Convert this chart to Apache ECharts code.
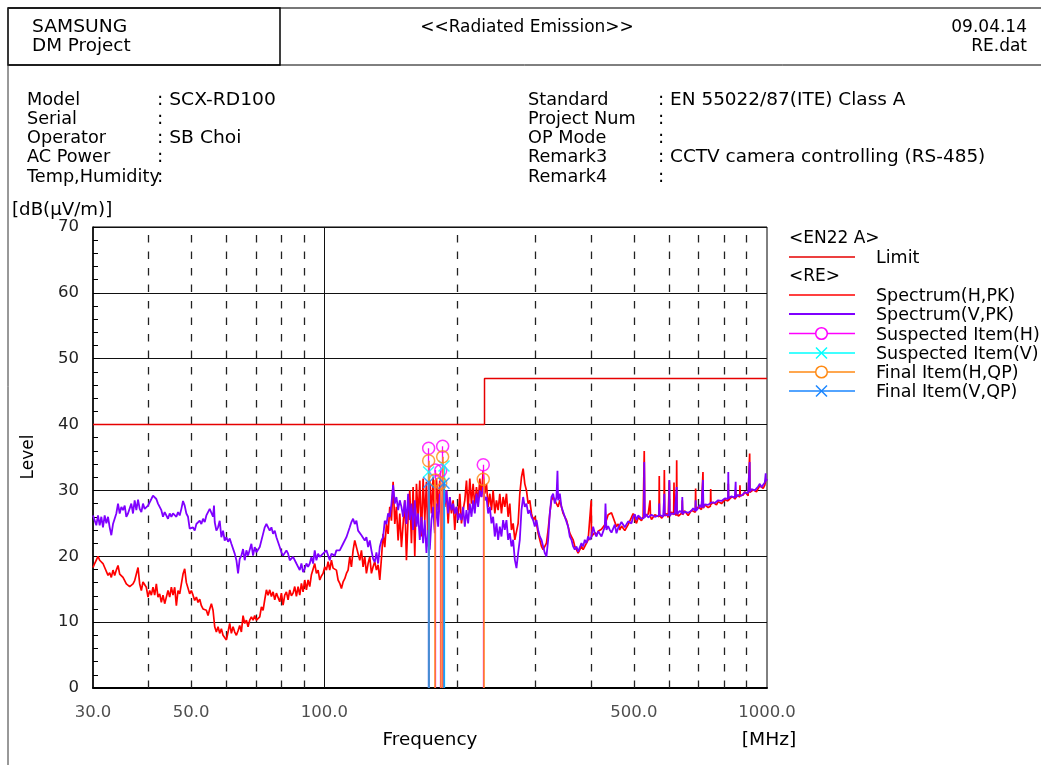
<!DOCTYPE html>
<html><head><meta charset="utf-8">
<script src="https://cdn.jsdelivr.net/npm/echarts@6/dist/echarts.min.js"></script>
<style>html,body{margin:0;padding:0;background:#fff;}#c{width:1041px;height:765px;}</style>
</head><body><div id="c"></div>
<script>
// ---------------- DATA ----------------
const spectrumH = [
[30.00,18.3],[30.26,18.9],[30.52,19.4],[30.79,20.0],[31.06,19.4],[31.33,19.1],[31.60,18.9],[31.88,18.3],[32.16,18.4],[32.44,17.1],[32.72,17.5],[33.00,16.8],[33.29,17.9],[33.58,17.1],[33.87,17.9],[34.17,18.6],[34.47,17.3],[34.77,17.3],[35.07,16.8],[35.38,16.3],[35.68,15.8],[35.99,15.6],[36.31,15.4],[36.62,15.6],[36.94,15.8],[37.26,16.3],[37.59,17.3],[37.92,18.3],[38.25,15.8],[38.58,14.8],[38.91,16.1],[39.25,16.3],[39.59,15.3],[39.94,13.8],[40.29,14.8],[40.64,14.1],[40.99,15.3],[41.35,14.1],[41.71,15.8],[42.07,13.8],[42.44,14.3],[42.81,13.0],[43.18,14.1],[43.56,12.8],[43.94,13.8],[44.32,14.8],[44.71,13.8],[45.10,15.3],[45.49,14.1],[45.89,15.3],[46.29,12.5],[46.69,14.8],[47.10,14.3],[47.51,15.8],[47.92,17.3],[48.34,18.1],[48.76,16.0],[49.18,15.8],[49.61,14.3],[50.04,14.8],[50.48,14.1],[50.92,13.3],[51.37,13.8],[51.81,13.0],[52.27,13.5],[52.72,12.5],[53.18,12.0],[53.65,12.3],[54.11,11.8],[54.58,11.0],[55.06,12.0],[55.54,12.8],[56.02,11.8],[56.51,9.3],[57.00,8.5],[57.50,9.3],[58.00,8.3],[58.50,9.0],[59.01,8.0],[59.52,7.7],[60.05,7.3],[60.57,8.5],[61.10,9.8],[61.63,8.3],[62.17,9.3],[62.71,8.5],[63.26,8.0],[63.81,8.7],[64.36,9.5],[64.92,8.5],[65.49,11.0],[66.06,9.8],[66.64,10.3],[67.22,9.3],[67.80,10.3],[68.39,10.8],[68.99,10.3],[69.59,11.0],[70.20,10.3],
[71.43,10.8],[72.05,12.3],[72.68,11.8],[73.31,13.4],[73.95,14.9],[74.59,14.1],[75.24,14.9],[75.90,13.9],[76.56,14.6],[77.23,13.4],[77.90,14.4],[78.58,14.1],[79.26,13.1],[79.95,14.4],[80.65,12.6],[81.35,14.1],[82.06,14.6],[82.77,13.4],[83.50,14.9],[84.22,14.0],[84.96,14.4],[85.70,15.4],[86.44,13.9],[87.20,15.4],[87.96,14.1],[88.72,15.9],[89.49,14.6],[90.27,16.4],[91.06,14.9],[91.85,16.4],[92.65,15.4],[93.46,17.2],[94.27,17.4],[95.09,18.9],[95.92,17.4],[96.76,17.9],[97.60,16.4],[98.45,17.0],[99.31,17.4],[100.17,18.4],[101.05,17.9],[101.93,19.2],[102.81,17.9],[103.71,19.4],[104.61,18.2],[106.44,17.9],[107.37,16.4],[108.31,15.9],[109.25,15.1],[110.20,16.1],[111.16,16.6],[112.13,17.4],[113.11,17.9],[114.09,19.9],[115.09,18.4],[116.09,20.9],[117.10,22.4],[118.12,22.7],[119.15,20.4],[120.19,19.4],[121.24,20.9],[122.29,18.4],[123.36,19.9],[124.43,17.4],[125.52,18.9],[126.61,19.9],[127.71,17.4],[128.83,18.4],[129.95,19.2],[131.08,17.9],[132.22,18.7],[133.38,16.4],[134.54,19.7],[135.71,23.4],[136.89,21.4],[138.09,24.9],[139.29,23.4],[140.50,27.5],[141.73,25.4],[142.96,31.3],[144.21,24.9],[145.46,27.5],[146.73,22.4],[148.01,26.5],[149.30,21.4],[150.60,24.9],[151.91,28.5],[153.23,19.4],[154.57,26.0],
[155.91,30.0],[157.27,22.0],[158.64,30.5],[160.02,20.0],[161.42,31.0],[162.82,26.0],[164.24,31.5],[165.67,23.0],[167.12,31.8],[168.57,25.5],[170.04,31.3],[171.52,21.5],[173.01,31.5],[174.52,26.5],[176.04,32.0],[177.57,24.0],[179.12,31.8],[180.68,27.0],[182.26,31.5],[183.84,22.5],[185.45,31.0],[187.06,27.5],[188.69,30.0],[190.34,25.0],[191.99,29.0],[193.67,26.5],[195.35,28.5],[197.05,24.0],[198.77,27.5],[200.50,26.0],[202.25,29.5],[204.01,25.0],[205.79,27.0],[207.58,28.5],[209.39,31.5],[211.21,27.0],[213.05,31.8],[214.91,28.0],[216.78,31.0],[218.67,27.5],[220.57,30.5],[222.49,28.0],[224.43,31.8],[226.39,29.0],[228.36,33.0],[230.35,29.5],[232.35,31.0],[234.38,27.5],[236.42,29.5],[238.48,27.0],[240.55,30.0],[242.65,26.5],[244.76,28.5],[246.89,27.0],[249.04,29.5],[251.21,26.5],[253.40,29.0],[255.60,27.5],[257.83,29.5],[260.08,26.0],[262.34,28.0],[264.63,24.0],[266.93,25.0],[269.26,22.5],[271.60,22.5],[273.97,25.0],[276.35,29.5],[278.76,32.0],[281.19,33.3],[283.64,31.0],[286.11,30.0],[288.60,28.0],[291.11,28.5],[293.65,26.5],[296.20,25.5],[298.78,26.0],[301.38,25.0],[304.01,23.5],[306.66,22.5],[309.33,21.5],[312.02,21.0],[314.74,21.5],[317.48,22.0],[320.24,24.0],[323.04,26.5],[325.85,28.5],[328.69,29.0],[331.55,29.3],[334.44,28.0],[337.35,27.5],[340.29,28.5],[343.25,27.5],[346.24,26.5],[349.26,26.0],[352.30,25.5],[355.37,24.5],[358.46,23.5],[361.58,23.0],[364.73,22.5],[367.91,21.5],[371.11,21.0],[374.34,20.5],[377.61,20.2],[380.89,21.5],[384.21,21.0],[387.56,21.5],[390.93,22.0],[394.34,22.5],[397.77,22.5],[400.7,28.5],[401.24,23.0],[404.73,23.0],[408.25,23.6],[411.81,23.2],[415.40,23.8],[419.02,23.5],[422.67,24.1],[426.35,24.0],[430.06,24.8],[433.81,25.5],[437.59,26.3],[441.40,26.0],[445.24,26.6],[449.12,26.3],[453.03,25.2],[456.98,24.5],[460.96,24.9],[464.97,24.0],[469.02,24.6],[473.11,24.5],[477.23,23.9],[481.39,24.0],[485.58,24.8],[489.81,25.0],[494.08,25.9],[498.38,26.5],[502.72,25.6],[507.10,25.0],[511.52,25.9],[515.97,25.8],
[520.5,25.4],[525.00,26.0],[527.0,25.8],[528.0,36.0],[529.5,26.0],[534.18,25.8],[538.8,26.4],[543.53,26.2],[544.2,28.5],[545.5,26.0],[548.3,25.6],[553.04,25.7],[557.9,26.3],[562.72,26.4],[570.0,26.0],[570.9,32.2],[572.0,26.2],[574.0,26.4],[578.5,25.8],[582.58,25.9],[585.0,26.3],[586.2,33.1],[587.5,26.1],[592.77,26.5],[597.9,25.9],[600.5,26.0],[601.6,31.5],[603.14,26.2],[608.4,26.7],[613.70,26.6],[615.3,26.3],[616.4,31.2],[617.5,26.5],[624.0,26.2],[625.1,34.6],[626.2,26.6],[630.7,26.1],[635.36,26.4],[642.5,26.6],[643.6,28.5],[644.8,26.3],[651.0,26.9],[657.78,26.8],[663.5,26.2],[669.29,26.3],[675.0,27.0],[681.00,27.0],[688.7,26.7],[689.8,30.3],[691.0,27.0],[698.9,27.5],[705.04,27.4],[711.2,27.1],[715.5,27.0],[716.7,32.8],[718.0,27.3],[723.6,27.8],[729.93,27.9],[736.3,27.4],[745.0,27.6],[746.1,30.2],[747.3,27.9],[755.69,28.2],[762.3,28.4],[768.91,27.8],[775.6,28.3],[782.37,28.5],[789.2,28.0],[796.05,28.1],[803.0,28.6],[809.98,28.8],[816.5,28.4],[817.6,31.0],[818.8,28.5],[828.0,28.9],[838.57,29.0],[848.5,28.7],[849.6,30.0],[850.8,28.9],[858.0,29.3],[867.7,29.0],[868.8,30.8],[870.0,29.2],[876.0,29.0],[883.36,29.3],[891.0,29.8],[898.82,29.6],[906.6,29.2],[912.6,29.5],[913.8,35.6],[915.0,29.7],[922.5,29.9],[930.54,30.1],[938.6,30.4],[946.82,29.8],[955.0,30.3],[963.39,30.7],[971.8,30.9],[980.25,30.3],[988.7,30.8],[994.5,31.7],[1000,31.5]
];

const spectrumV = [
[30.00,26.2],[30.26,26.0],[30.52,24.7],[30.79,26.2],[31.06,24.7],[31.33,26.0],[31.60,24.4],[31.88,26.2],[32.16,25.0],[32.44,26.0],[32.72,24.4],[33.00,23.2],[33.29,24.9],[33.58,24.7],[33.87,26.5],[34.17,28.0],[34.47,26.5],[34.77,27.5],[35.07,27.0],[35.38,27.7],[35.68,26.0],[35.99,26.5],[36.31,26.2],[36.62,28.0],[36.94,26.5],[37.26,28.5],[37.59,27.0],[37.92,28.6],[38.25,27.2],[38.58,26.7],[38.91,28.0],[39.25,27.2],[39.59,27.1],[39.94,27.7],[40.29,28.2],[40.64,28.7],[40.99,29.2],[41.35,29.0],[41.71,28.7],[42.07,28.0],[42.44,28.2],[42.81,27.0],[43.18,26.0],[43.56,26.7],[43.94,26.5],[44.32,25.7],[44.71,26.5],[45.10,26.0],[45.49,26.5],[45.89,26.2],[46.29,26.0],[46.69,26.7],[47.10,26.2],[47.51,27.2],[47.92,28.4],[48.34,27.7],[48.76,26.5],[49.18,26.0],[49.61,24.2],[50.04,23.9],[50.48,24.4],[50.92,23.9],[51.37,24.9],[51.81,24.7],[52.27,25.4],[52.72,24.9],[53.18,25.7],[53.65,25.2],[54.11,26.2],[54.58,26.5],[55.06,27.2],[55.54,27.5],[56.02,26.0],[56.30,27.7],[56.51,25.2],[57.00,23.9],[57.50,24.4],[58.00,25.4],[58.50,22.9],[59.01,23.9],[59.52,22.4],[60.05,22.9],[60.57,22.2],[61.10,22.7],[61.63,21.9],[62.17,21.6],[62.71,20.4],[63.26,19.4],[63.81,17.4],[64.36,19.6],[64.92,20.1],[65.49,21.1],[66.06,19.4],[66.64,20.9],[67.22,20.1],[67.80,19.9],[68.39,21.9],[68.99,20.1],[69.59,21.4],[70.20,20.6],
[71.43,21.4],[72.68,23.4],[73.31,24.4],[73.95,24.9],[74.59,24.7],[75.24,23.9],[75.90,24.4],[76.56,23.4],[77.23,23.9],[77.90,22.9],[78.58,23.2],[79.26,21.4],[79.95,20.6],[80.65,20.1],[82.06,20.9],[82.77,20.4],[83.50,19.4],[84.96,19.9],[85.70,19.6],[86.44,18.9],[87.20,18.4],[87.96,17.9],[88.72,18.9],[89.49,17.6],[90.27,18.1],[91.06,18.9],[91.85,18.4],[92.65,18.9],[93.46,19.9],[94.27,18.9],[95.09,20.9],[95.92,19.4],[96.76,20.4],[97.60,19.9],[99.31,20.4],[101.05,20.9],[102.81,19.4],[103.71,20.4],[105.52,20.1],[106.44,20.9],[108.31,20.9],[110.20,21.9],[112.13,22.9],[114.09,24.4],[115.09,25.2],[116.09,25.7],[117.10,24.9],[118.12,25.4],[119.15,23.9],[120.19,24.2],[121.24,23.2],[122.29,23.4],[123.36,22.4],[124.43,22.9],[125.52,21.4],[126.61,22.4],[127.71,20.9],[128.83,19.6],[129.95,19.1],[131.08,20.6],[132.22,18.9],[133.38,21.4],[134.54,22.4],[135.71,22.9],[136.89,25.4],[138.09,24.9],[139.29,26.5],[140.50,26.0],[141.73,28.0],[142.96,30.8],[144.21,28.0],[145.46,29.0],[146.73,27.0],[148.01,28.5],[149.30,27.5],[150.60,26.0],[151.91,28.5],[153.23,24.9],[154.57,29.5],
[155.91,25.5],[157.27,28.0],[158.64,24.0],[160.02,28.5],[161.42,24.5],[162.82,26.5],[164.24,22.5],[165.67,26.0],[167.12,22.0],[168.57,25.5],[170.04,20.5],[171.52,24.0],[173.01,21.0],[174.52,25.5],[176.04,27.5],[177.57,23.5],[179.12,28.0],[180.68,24.5],[182.26,29.5],[183.84,24.5],[185.45,30.5],[187.06,28.0],[188.69,30.0],[190.34,26.5],[191.99,29.0],[193.67,27.0],[195.35,28.0],[197.05,26.5],[198.77,27.5],[200.50,25.5],[202.25,26.5],[204.01,25.5],[205.79,27.5],[207.58,24.5],[209.39,27.0],[211.21,25.0],[213.05,28.0],[214.91,26.0],[216.78,28.5],[218.67,26.5],[220.57,29.5],[222.49,27.5],[224.43,30.0],[226.39,29.0],[228.36,30.5],[230.35,28.5],[232.35,29.0],
[234.38,26.5],[236.42,27.5],[238.48,25.0],[240.55,26.0],[242.65,23.0],[244.76,25.0],[246.89,22.5],[249.04,24.5],[251.21,23.0],[253.40,25.5],[255.60,24.0],[257.83,25.5],[260.08,22.5],[262.34,23.5],[264.63,21.5],[266.93,22.5],[269.26,19.5],[271.60,18.2],[273.97,20.5],[276.35,22.5],[278.76,27.0],[281.19,29.0],[283.64,27.5],[286.11,28.0],[288.60,26.5],[291.11,27.0],[293.65,26.0],[296.20,25.5],[298.78,24.5],[301.38,25.5],[304.01,24.0],[306.66,23.0],[309.33,22.5],[312.02,21.5],[314.74,20.5],[317.48,20.0],[320.24,22.5],[323.04,26.5],[325.85,29.0],[328.69,29.5],[331.55,28.0],[334.44,29.0],[336.2,33.0],[337.35,28.5],[340.29,29.5],[343.25,27.5],[346.24,27.5],[349.26,26.0],[352.30,26.0],[355.37,24.5],[358.46,23.0],[361.58,22.5],[364.73,21.5],[367.91,21.0],[371.11,21.5],[374.34,20.7],[377.61,21.0],[380.89,22.0],[384.21,21.5],[387.56,22.5],[390.93,22.0],[394.34,23.0],[397.77,22.5],[401.24,23.0],[404.73,24.5],[408.25,23.5],[411.81,23.0],[415.40,23.8],[419.02,23.5],[422.67,23.0],[426.35,23.0],[430.06,24.5],[431.6,28.0],[433.81,24.0],[437.59,24.6],[441.40,24.0],[445.24,23.6],[449.12,24.2],[453.03,24.8],[456.98,23.5],[460.96,24.3],[464.97,24.5],[469.02,25.2],[473.11,25.0],[477.23,24.4],[481.39,24.5],[485.58,25.3],[489.81,25.5],[494.08,25.0],[498.38,26.0],[502.72,26.4],[507.10,25.5],[511.52,26.2],[515.97,26.0],
[520.5,25.7],[525.00,25.4],[527.0,25.8],[528.0,34.3],[529.5,25.9],[534.18,26.4],[538.8,25.9],[543.53,25.8],[548.3,26.3],[553.04,26.5],[557.9,26.0],[562.72,25.9],[570.0,26.2],[570.9,28.0],[571.8,26.3],[577.5,26.6],[582.58,26.0],[585.0,26.2],[586.2,29.5],[587.5,26.3],[592.77,26.6],[600.5,26.2],[601.6,31.6],[602.7,26.1],[608.5,26.5],[613.70,26.8],[619.0,26.4],[624.0,26.3],[625.1,30.5],[626.2,26.4],[630.3,26.6],[635.36,26.9],[642.5,26.6],[643.6,29.0],[644.8,26.4],[652.0,26.8],[657.78,27.0],[663.5,26.6],[669.29,26.5],[675.0,26.9],[681.00,27.3],[688.7,26.9],[689.8,28.5],[691.0,26.9],[698.9,27.3],[705.04,27.8],[711.2,27.4],[715.5,27.3],[716.7,31.6],[718.0,27.4],[723.6,27.9],[729.93,28.2],[736.3,27.8],[742.70,27.7],[749.2,28.2],[755.69,28.5],[762.3,28.1],[768.91,28.0],[775.6,28.5],[782.37,28.8],[789.2,28.4],[796.05,28.3],[803.0,28.8],[809.98,29.0],[816.5,28.7],[817.6,32.8],[818.8,28.8],[824.15,28.6],[831.3,29.1],[838.57,29.3],[845.9,28.9],[848.5,29.0],[849.6,31.3],[850.8,29.0],[853.25,28.8],[860.7,29.3],[868.17,29.6],[875.7,29.2],[883.36,29.2],[891.0,29.7],[898.82,30.0],[906.6,29.6],[912.6,29.7],[913.8,34.3],[915.0,29.8],[922.5,30.2],[930.54,30.4],[938.6,30.0],[946.82,30.0],[955.0,30.6],[963.39,31.0],[971.8,30.5],[980.25,30.6],[988.7,31.2],[992.2,31.0],[993.3,32.6],[994.5,31.4],[1000,31.8]
];

const limitEN22A = [[30,40],[230,40],[230,47],[1000,47]];

const suspectedH = [[172.0,36.4],[178.0,33.1],[183.1,33.0],[185.0,36.7],[228.5,33.9]];
const suspectedV = [[172.0,32.8],[186.3,33.7]];
const finalHQP   = [[172.0,34.5],[178.0,31.6],[183.1,31.1],[185.0,35.1],[228.5,31.7]];
const finalVQP   = [[172.0,31.2],[186.3,31.1]];

const dashedGridFreqs = [40,50,60,70,80,90,200,300,400,500,600,700,800,900];
const solidGridFreqs  = [100];
const xTickLabels = [30,50,100,500,1000];

// -------------- CHART ----------------
const FONT = 'DejaVu Sans';
const C_H = '#ff0000', C_V = '#7f00ff', C_LIM = '#e60000';
const C_SH = '#ff00ff', C_SV = '#00ffff', C_FH = '#ff8a14', C_FV = '#1a86ff';
const XPATH = 'path://M0,0L10,10M10,0L0,10';

function stems(points){ return points.map(p => [{coord:[p[0],0]},{coord:[p[0],p[1]]}]); }

const chart = echarts.init(document.getElementById('c'), null, {renderer:'canvas'});

const txt = (x, y, s, opt, sx) => ({type:'text', x:x, y:y, scaleX:(sx||1), silent:true,
  style:Object.assign({text:s, font:'17px "' + FONT + '"', fill:'#000', align:'left', verticalAlign:'middle'}, (opt||{}))});
const ln = (x1,y1,x2,y2,stroke,w) => ({type:'line', silent:true, shape:{x1:x1,y1:y1,x2:x2,y2:y2}, style:{stroke:stroke, lineWidth:w||1}});

const infoLeft  = [['Model',': SCX-RD100'],['Serial',':'],['Operator',': SB Choi'],['AC Power',':'],['Temp,Humidity',':']];
const infoRight = [['Standard',': EN 55022/87(ITE) Class A'],['Project Num',':'],['OP Mode',':'],['Remark3',': CCTV camera controlling (RS-485)'],['Remark4',':']];
const rowY = [101,120,139,158,178];

const graphics = [];
// frames
graphics.push(ln(8,8,1041,8,'#777',2));
graphics.push({type:'rect', silent:true, shape:{x:8,y:8,width:272,height:57}, style:{stroke:'#000', fill:'none', lineWidth:1.5}});
graphics.push(ln(8,65,1041,65,'#000',1));
graphics.push(ln(8,8,8,765,'#333',1));
// header
graphics.push(txt(32,28,'SAMSUNG',null,1.1));
graphics.push(txt(32,47,'DM Project',null,1.08));
graphics.push(txt(527,28,'<<Radiated Emission>>',{align:'center'}));
graphics.push(txt(1027,28,'09.04.14',{align:'right'}));
graphics.push(txt(1027,47,'RE.dat',{align:'right'}));
infoLeft.forEach((r,i)=>{ graphics.push(txt(27,rowY[i],r[0],null,1.04)); graphics.push(txt(157,rowY[i],r[1],null,1.1)); });
infoRight.forEach((r,i)=>{ graphics.push(txt(528,rowY[i],r[0],null,1.04)); graphics.push(txt(658,rowY[i],r[1],null,1.085)); });
// axis titles
graphics.push(txt(12,211,'[dB(\u03bcV/m)]',null,1.07));
graphics.push({type:'text', x:29, y:457, rotation:Math.PI/2, silent:true,
  style:{text:'Level', font:'17px "' + FONT + '"', fill:'#000', align:'center', verticalAlign:'middle'}});
graphics.push(txt(430,741,'Frequency',{align:'center'},1.08));
graphics.push(txt(769,741,'[MHz]',{align:'center'},1.1));
// legend
graphics.push(txt(789,239,'<EN22 A>'));
graphics.push(ln(789,257,855,257,C_LIM,1.5));
graphics.push(txt(876,258.5,'Limit',null,1.03));
graphics.push(txt(789,277,'<RE>'));
const legRows = [
  {y:295, c:C_H, t:'Spectrum(H,PK)'},
  {y:314, c:C_V, t:'Spectrum(V,PK)', w:2},
  {y:333.5, c:C_SH, t:'Suspected Item(H)', m:'o'},
  {y:353, c:C_SV, t:'Suspected Item(V)', m:'x'},
  {y:372, c:C_FH, t:'Final Item(H,QP)', m:'o'},
  {y:391, c:C_FV, t:'Final Item(V,QP)', m:'x'}
];
legRows.forEach(r=>{
  graphics.push(ln(789,r.y,855,r.y,r.c,r.w||1.5));
  if (r.m==='o') graphics.push({type:'circle', silent:true, shape:{cx:821.5,cy:r.y,r:5.8}, style:{stroke:r.c, fill:'#fff', lineWidth:1.5}});
  if (r.m==='x') { graphics.push(ln(816,r.y-5.5,827,r.y+5.5,r.c,1.5)); graphics.push(ln(816,r.y+5.5,827,r.y-5.5,r.c,1.5)); }
  graphics.push(txt(876,r.y+2,r.t,null,1.03));
});

const option = {
  animation:false,
  backgroundColor:'#fff',
  graphic:{elements:graphics},
  grid:{left:93, top:227, width:674, height:461, show:true, borderColor:'#000', borderWidth:1, backgroundColor:'transparent', containLabel:false},
  xAxis:{type:'log', logBase:10, min:30, max:1000,
    axisLine:{show:true, onZero:false, lineStyle:{color:'#000', width:2}},
    axisTick:{show:false}, axisLabel:{show:false}, splitLine:{show:false}, minorTick:{show:false}, minorSplitLine:{show:false}},
  yAxis:{type:'value', min:0, max:70, interval:10,
    axisLine:{show:true, lineStyle:{color:'#000', width:1.5}},
    axisTick:{show:true, inside:true, length:7, lineStyle:{color:'#000'}},
    minorTick:{show:true, splitNumber:5, length:5, lineStyle:{color:'#000'}},
    axisLabel:{fontFamily:FONT, fontSize:16.5, color:'#222', margin:14},
    splitLine:{show:true, lineStyle:{color:'#111', width:1}}},
  series:[
    { name:'Limit', type:'line', data:limitEN22A, symbol:'none', z:4, silent:true,
      lineStyle:{color:C_LIM, width:1.5},
      markLine:{silent:true, z:1, symbol:['none','none'], label:{show:false}, emphasis:{disabled:true},
        data: dashedGridFreqs.map(f=>({xAxis:f, lineStyle:{color:'#222', type:[7.5,9], width:1.3}}))
          .concat(solidGridFreqs.map(f=>({xAxis:f, lineStyle:{color:'#111', type:'solid', width:1}})))}
    },
    { name:'Spectrum(H,PK)', type:'line', data:spectrumH, symbol:'none', showSymbol:false, z:2, silent:true, sampling:'none',
      lineStyle:{color:C_H, width:1.7}},
    { name:'Spectrum(V,PK)', type:'line', data:spectrumV, symbol:'none', showSymbol:false, z:2, silent:true, sampling:'none',
      lineStyle:{color:C_V, width:1.8}},
    { name:'Suspected Item(H)', type:'scatter', data:suspectedH, symbol:'circle', symbolSize:12, z:5, silent:true,
      itemStyle:{color:'transparent', borderColor:C_SH, borderWidth:1.5},
      markLine:{silent:true, z:3, symbol:['none','none'], label:{show:false}, lineStyle:{color:C_SH, type:'solid', width:1.3}, data:stems(suspectedH)}},
    { name:'Suspected Item(V)', type:'scatter', data:suspectedV, symbol:XPATH, symbolSize:11, z:5, silent:true,
      itemStyle:{color:'transparent', borderColor:C_SV, borderWidth:1.5},
      markLine:{silent:true, z:3, symbol:['none','none'], label:{show:false}, lineStyle:{color:C_SV, type:'solid', width:1.3}, data:stems(suspectedV)}},
    { name:'Final Item(H,QP)', type:'scatter', data:finalHQP, symbol:'circle', symbolSize:12, z:6, silent:true,
      itemStyle:{color:'transparent', borderColor:C_FH, borderWidth:1.5},
      markLine:{silent:true, z:3.5, symbol:['none','none'], label:{show:false}, lineStyle:{color:C_FH, type:'solid', width:1.5}, data:stems(finalHQP)}},
    { name:'Final Item(V,QP)', type:'scatter', data:finalVQP, symbol:XPATH, symbolSize:11, z:6, silent:true,
      itemStyle:{color:'transparent', borderColor:C_FV, borderWidth:1.5},
      markLine:{silent:true, z:3.6, symbol:['none','none'], label:{show:false}, lineStyle:{color:C_FV, type:'solid', width:1.5}, data:stems(finalVQP)}},
    { name:'xTickLabels', type:'scatter', data:xTickLabels.map(v=>[v,0]), symbol:'circle', symbolSize:1, z:1, silent:true,
      itemStyle:{color:'transparent'},
      label:{show:true, position:'bottom', distance:16, formatter:p=>p.value[0].toFixed(1),
        fontFamily:FONT, fontSize:16.5, color:'#222'}}
  ]
};
chart.setOption(option);
</script>
</body></html>
